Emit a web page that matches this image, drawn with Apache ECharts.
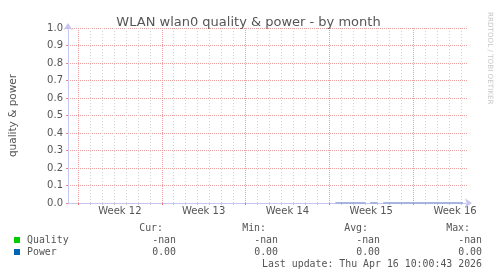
<!DOCTYPE html>
<html>
<head>
<meta charset="utf-8">
<script src="https://cdn.jsdelivr.net/npm/echarts@6/dist/echarts.min.js"></script>
<style>
html,body{margin:0;padding:0;background:#fff;}
#c{width:497px;height:276px;}
</style>
</head>
<body>
<div id="c"></div>
<script>
// ---- data (x in hours from the left edge of the graph window) ----
const windowHours = 800;
const weekStarts = [20, 188, 356, 524, 692];
const weekLabels = ['Week 12', 'Week 13', 'Week 14', 'Week 15', 'Week 16'];
const yTicks = [0, 0.1, 0.2, 0.3, 0.4, 0.5, 0.6, 0.7, 0.8, 0.9, 1.0];
const powerHours  = [536, 566, 596, 601, 606, 613, 620, 626, 632, 700, 792];
const powerValues = [0,   0,   0,   null, 0,  0,   0,   null, 0,  0,   0];
const qualityHours = [];
const qualityValues = [];
const legendNames = ['Quality', 'Power'];
const legendColors = ['#00cc00', '#0066b3'];
const statHeaders = ['Cur:', 'Min:', 'Avg:', 'Max:'];
const qualityStats = ['-nan', '-nan', '-nan', '-nan'];
const powerStats = ['0.00', '0.00', '0.00', '0.00'];
const lastUpdate = 'Last update: Thu Apr 16 10:00:43 2026';

// derived tick positions
const dayTicks = [];
for (let h = weekStarts[0] - 24 * Math.floor(weekStarts[0] / 24); h <= windowHours; h += 24) {
  if (weekStarts.indexOf(h) < 0) dayTicks.push(h);
}
const weekMid = weekStarts.map(w => w + 84);

const chart = echarts.init(document.getElementById('c'), null, {renderer: 'canvas'});
const txt = '#555';
const mono = '"DejaVu Sans Mono", monospace';
const majorColor = '#eaa0a0';

const headerX = [163, 266, 368, 470];
const valueX = [176, 278, 380, 482];
const rowY = [240, 252];
const statRows = [qualityStats, powerStats];

const graphics = [];
statHeaders.forEach((h, i) => graphics.push({
  type: 'text', x: headerX[i], y: 228,
  style: {text: h, fill: txt, font: '9.9px ' + mono, textAlign: 'right', textVerticalAlign: 'middle'}
}));
legendNames.forEach((n, r) => {
  graphics.push({type: 'rect', shape: {x: 14, y: rowY[r] - 3, width: 6, height: 6}, style: {fill: legendColors[r]}});
  graphics.push({type: 'text', x: 27, y: rowY[r],
    style: {text: n, fill: txt, font: '9.9px ' + mono, textVerticalAlign: 'middle'}});
  statRows[r].forEach((v, i) => graphics.push({
    type: 'text', x: valueX[i], y: rowY[r],
    style: {text: v, fill: txt, font: '9.9px ' + mono, textAlign: 'right', textVerticalAlign: 'middle'}
  }));
});
graphics.push({type: 'text', x: 482, y: 264,
  style: {text: lastUpdate, fill: txt, font: '9.9px ' + mono, textAlign: 'right', textVerticalAlign: 'middle'}});
graphics.push({type: 'text', x: 490, y: 12, rotation: -Math.PI / 2,
  style: {text: 'RRDTOOL / TOBI OETIKER', fill: '#c8c8c8', font: '7.2px "DejaVu Sans"', textAlign: 'left', textVerticalAlign: 'middle'}});

const gridBox = {left: 60, right: 30, top: 28, bottom: 73};

chart.setOption({
  animation: false,
  backgroundColor: '#fff',
  title: {
    text: 'WLAN wlan0 quality & power - by month',
    left: 'center', top: 11,
    textStyle: {fontFamily: 'DejaVu Sans', fontSize: 13, fontWeight: 'normal', color: txt}
  },
  grid: gridBox,
  xAxis: [
    { // minor (daily) grid
      type: 'value', min: 0, max: windowHours, gridIndex: 0,
      axisLine: {show: false},
      axisTick: {show: true, length: 2, customValues: dayTicks, lineStyle: {color: '#c8c8c8'}},
      axisLabel: {show: false},
      splitLine: {show: true, lineStyle: {color: '#d2d2d2', type: [1, 2], width: 1}}
    },
    { // major (weekly) grid
      type: 'value', min: 0, max: windowHours, gridIndex: 0, position: 'bottom',
      axisLine: {show: false},
      axisTick: {show: true, length: 2, customValues: weekStarts, lineStyle: {color: '#f08080'}},
      axisLabel: {show: false},
      splitLine: {show: true, lineStyle: {color: majorColor, type: [1, 1], width: 1}}
    },
    { // axis line + labels
      type: 'value', min: 0, max: windowHours, gridIndex: 0, position: 'bottom',
      axisLine: {show: true, symbol: ['none', 'arrow'], symbolSize: [7, 7], symbolOffset: [0, 5],
        lineStyle: {color: '#c6c6f0', width: 1}},
      axisTick: {show: false},
      axisLabel: {
        show: true, customValues: weekMid, margin: 3,
        fontFamily: 'DejaVu Sans', fontSize: 10, color: txt,
        formatter: v => weekLabels[weekMid.indexOf(v)] || ''
      },
      splitLine: {show: false}
    }
  ],
  yAxis: {
    type: 'value', min: 0, max: 1, interval: 0.1,
    name: 'quality & power', nameLocation: 'middle', nameRotate: 90, nameGap: 49,
    nameTextStyle: {fontFamily: 'DejaVu Sans', fontSize: 10.5, color: txt},
    axisLine: {show: true, symbol: ['none', 'arrow'], symbolSize: [7, 7], symbolOffset: [0, 5],
      lineStyle: {color: '#c6c6f0', width: 1}},
    axisTick: {show: true, length: 2, lineStyle: {color: '#f08080'}},
    axisLabel: {margin: 5, fontFamily: 'DejaVu Sans', fontSize: 10, color: txt,
      formatter: v => v.toFixed(1)},
    splitLine: {show: true, lineStyle: {color: majorColor, type: [1, 1], width: 1}}
  },
  graphic: graphics,
  series: [
    {
      name: 'Quality', type: 'line', xAxisIndex: 2, showSymbol: false,
      data: qualityHours.map((h, i) => [h, qualityValues[i]]),
      lineStyle: {color: legendColors[0], width: 1}, itemStyle: {color: legendColors[0]}
    },
    {
      name: 'Power', type: 'line', xAxisIndex: 2, showSymbol: false, connectNulls: false,
      data: powerHours.map((h, i) => [h, powerValues[i]]),
      lineStyle: {color: '#8ba2d8', width: 1.5}, itemStyle: {color: legendColors[1]},
      z: 5
    }
  ]
});
</script>
</body>
</html>
